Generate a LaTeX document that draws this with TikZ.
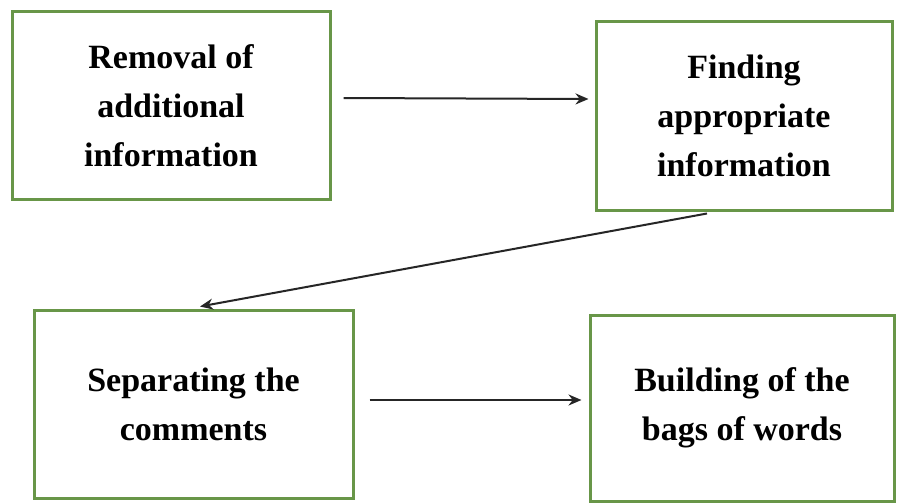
\documentclass[tikz,border=0pt]{standalone}
\usepackage{fontspec}
\setmainfont{Liberation Serif}
\usetikzlibrary{arrows.meta}
\definecolor{boxgreen}{RGB}{104,150,72}
\begin{document}
\begin{tikzpicture}[x=1pt,y=-1pt,
  stepbox/.style={draw=boxgreen,line width=3pt,fill=white,rectangle,
    align=center,inner sep=0pt,
    font=\fontsize{34}{49}\selectfont\bfseries},
  flow/.style={draw=black!85,line width=2pt,-{Stealth[length=13pt,width=11pt]}}]
  % canvas
  \fill[white] (0,0) rectangle (902,503);
  \useasboundingbox (0,0) rectangle (902,503);
  % process steps
  \node[stepbox,minimum width=318pt,minimum height=187pt] (b1) at (171,105.5)
    {Removal of\\additional\\information};
  \node[stepbox,minimum width=296pt,minimum height=188pt] (b2) at (744,116)
    {Finding\\appropriate\\information};
  \node[stepbox,minimum width=319pt,minimum height=188pt] (b3) at (193.5,404)
    {Separating the\\comments};
  \node[stepbox,minimum width=304pt,minimum height=186pt] (b4) at (742,408)
    {Building of the\\bags of words};
  % connectors
  \draw[flow] ([shift={(12,-7.5)}]b1.east) -- ([shift={(-6,-17)}]b2.west);
  \draw[flow] ([shift={(-37,2)}]b2.south) -- ([shift={(6.5,-2)}]b3.north);
  \draw[flow] ([shift={(15,-4)}]b3.east) -- ([shift={(-7,-8)}]b4.west);
\end{tikzpicture}
\end{document}
